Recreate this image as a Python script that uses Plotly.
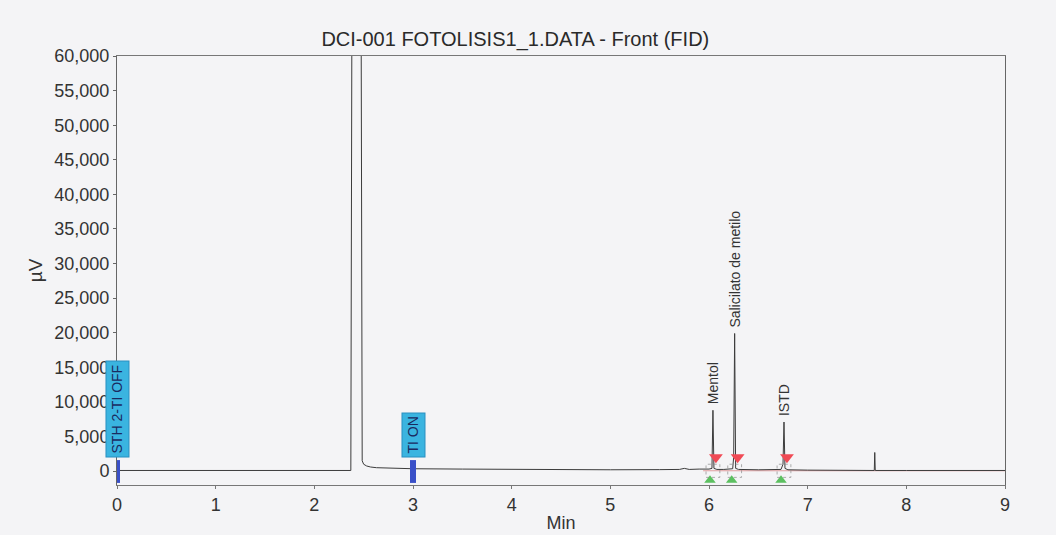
import plotly.graph_objects as go

# Chromatogram trace (time in min, signal in µV)
time_min = [0.0, 0.5, 1.0, 1.5, 2.0, 2.37, 2.38, 2.475, 2.485, 2.50, 2.53, 2.57, 2.63, 2.75, 3.0,
            3.5, 4.0, 4.5, 5.0, 5.5, 5.7, 5.75, 5.8, 5.9, 5.95, 6.0, 6.03, 6.04, 6.05, 6.08,
            6.15, 6.24, 6.25, 6.26, 6.27, 6.30, 6.5, 6.73, 6.75, 6.76, 6.77, 6.80, 7.0,
            7.5, 7.675, 7.68, 7.685, 8.0, 8.5, 9.0]
signal_uv = [100, 100, 100, 100, 100, 100, 62000, 62000, 1500, 1000, 750, 600, 500, 420, 350,
             300, 250, 220, 200, 220, 250, 400, 250, 300, 250, 300, 400, 8800, 400, 250,
             250, 350, 2000, 19900, 400, 250, 200, 250, 1000, 7100, 400, 200, 150,
             120, 100, 2700, 100, 100, 100, 100]

# Integrated peaks
peak_names = ["Mentol", "Salicilato de metilo", "ISTD"]
peak_times = [6.04, 6.26, 6.76]
peak_heights = [8800, 19900, 7100]

# Timed events
event_names = ["STH 2-TI OFF", "TI ON"]
event_times = [0.0, 3.0]

x_ticks = [0, 1, 2, 3, 4, 5, 6, 7, 8, 9]
y_ticks = list(range(0, 60001, 5000))

FONT = "Liberation Sans, Arial"

fig = go.Figure()

# integration baseline (faint red)
fig.add_trace(go.Scatter(x=[peak_times[0] - 0.1, 9.0], y=[60, 60], mode="lines",
                         line=dict(color="rgba(210,90,90,0.55)", width=1),
                         hoverinfo="skip", showlegend=False))

fig.add_trace(go.Scatter(x=time_min, y=signal_uv, mode="lines",
                         line=dict(color="#3c3c3c", width=1), showlegend=False))

# peak start (green) and end (red) markers
fig.add_trace(go.Scatter(x=[t - 0.03 for t in peak_times], y=[-1300] * len(peak_times),
                         mode="markers", marker=dict(symbol="triangle-up", size=10, color="#5cc060",
                                                     line=dict(width=0)),
                         showlegend=False, hoverinfo="skip"))
fig.add_trace(go.Scatter(x=[t + 0.03 for t in peak_times], y=[2000] * len(peak_times),
                         mode="markers", marker=dict(symbol="triangle-down", size=12, color="#f04a55",
                                                     line=dict(width=0)),
                         showlegend=False, hoverinfo="skip"))

shapes = []
for t in peak_times:
    shapes.append(dict(type="rect", xref="x", yref="y", x0=t - 0.07, x1=t + 0.07, y0=-900, y1=1000,
                       line=dict(color="rgba(140,140,140,0.7)", width=1, dash="dot")))
for t in event_times:
    shapes.append(dict(type="line", xref="x", yref="y", x0=t, x1=t, y0=-1700, y1=1600,
                       line=dict(color="#3a50c8", width=6)))
fig.update_layout(shapes=shapes)

annotations = []
for name, t, h in zip(peak_names, peak_times, peak_heights):
    annotations.append(dict(x=t, y=h, xref="x", yref="y", text=name, textangle=-90,
                            showarrow=False, yanchor="bottom", xanchor="center", yshift=4,
                            font=dict(family=FONT, size=14, color="#333")))
for name, t in zip(event_names, event_times):
    annotations.append(dict(x=t, y=1900, xref="x", yref="y", text=name, textangle=-90,
                            showarrow=False, yanchor="bottom", xanchor="center",
                            bgcolor="#3ab4e0", bordercolor="#2a90c0", borderwidth=1, borderpad=3,
                            font=dict(family=FONT, size=14, color="#1a2a60")))
fig.update_layout(annotations=annotations)

fig.update_layout(
    width=1056, height=535,
    margin=dict(l=117, r=51, t=56, b=50),
    paper_bgcolor="#f4f4f6", plot_bgcolor="#f4f4f6",
    title=dict(text="DCI-001 FOTOLISIS1_1.DATA - Front (FID)", x=0.488, xanchor="center",
               y=1 - 39 / 535, yanchor="middle",
               font=dict(family=FONT, size=20, color="#2a2a2a")),
    xaxis=dict(range=[0, 9], tickvals=x_ticks, showgrid=False, zeroline=False,
               showline=True, linecolor="#777", linewidth=1, mirror=True,
               ticks="outside", ticklen=3, tickcolor="#777", automargin=False,
               tickfont=dict(family=FONT, size=18, color="#333"),
               title=dict(text="Min", standoff=2,
                          font=dict(family=FONT, size=18, color="#333"))),
    yaxis=dict(range=[-2000, 60000], tickvals=y_ticks, tickformat=",d", showgrid=False,
               zeroline=False, showline=True, linecolor="#666", linewidth=1, mirror=True,
               ticks="outside", ticklen=3, tickcolor="#666", automargin=False,
               tickfont=dict(family=FONT, size=18, color="#333"),
               title=dict(text="µV", standoff=6,
                          font=dict(family=FONT, size=19, color="#333"))),
)

fig.write_html("out.html")
